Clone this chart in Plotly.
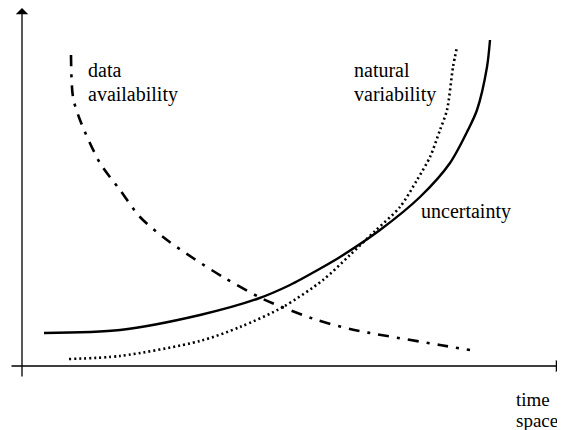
import plotly.graph_objects as go

# the page body adds an 8px margin, so the figure is drawn 8px smaller
# and its ranges start where the page content starts
W, H = 557, 422

# curves (x to the right, y upward = 430 - pixel row)
unc_x = [44, 120, 200, 257, 290, 323, 340, 380, 420, 450, 468, 477, 487, 490]
unc_y = [97, 100, 115, 131, 145, 163, 173, 200, 233, 267, 300, 320, 363, 390]

nat_x = [69, 120, 200, 240, 283, 323, 350, 375, 400, 417, 430, 440, 447, 453, 457]
nat_y = [71, 74, 89, 103, 123, 150, 175, 199, 223, 250, 273, 300, 320, 363, 383]

dat_x = [71, 73, 80, 100, 120, 140, 167, 193, 223, 263, 317, 350, 370, 440, 470]
dat_y = [375, 333, 310, 267, 240, 213, 190, 172, 153, 131, 110, 101, 97, 85, 80]

# axis frame
y_axis_x, y_axis_bottom, y_axis_top = 22, 52, 422
x_axis_y, x_axis_left, x_axis_right = 64, 10, 562

fig = go.Figure()

fig.add_trace(go.Scatter(x=unc_x, y=unc_y, mode="lines",
                         line=dict(color="black", width=2.4, shape="spline", smoothing=0.8)))
fig.add_trace(go.Scatter(x=nat_x, y=nat_y, mode="lines",
                         line=dict(color="black", width=2.6, dash="2px,3px",
                                   shape="spline", smoothing=0.8)))
fig.add_trace(go.Scatter(x=dat_x, y=dat_y, mode="lines",
                         line=dict(color="black", width=2.6, dash="11px,8px,3px,8px",
                                   shape="spline", smoothing=0.8)))

# axes with arrow heads
fig.add_annotation(x=y_axis_x, y=y_axis_top, ax=y_axis_x, ay=y_axis_bottom,
                   xref="x", yref="y", axref="x", ayref="y", text="",
                   showarrow=True, arrowhead=1, arrowsize=1.6, arrowwidth=1.3,
                   arrowcolor="black")
fig.add_annotation(x=x_axis_right, y=x_axis_y, ax=x_axis_left, ay=x_axis_y,
                   xref="x", yref="y", axref="x", ayref="y", text="",
                   showarrow=True, arrowhead=1, arrowsize=1.6, arrowwidth=1.3,
                   arrowcolor="black")

font = dict(family="Liberation Serif, Times New Roman, serif", size=20, color="black")
small = dict(font, size=19)
labels = [
    (86, 360, "data", font),
    (86, 336, "availability", font),
    (352, 360, "natural", font),
    (352, 336, "variability", font),
    (419, 219, "uncertainty", font),
    (514, 31, "time", small),
    (514, 10, "space", small),
]
for lx, ly, txt, f in labels:
    fig.add_annotation(x=lx, y=ly, text=txt, showarrow=False, xanchor="left",
                       yanchor="middle", align="left", font=f)

fig.update_layout(
    width=W, height=H,
    margin=dict(l=0, r=0, t=0, b=0),
    plot_bgcolor="white", paper_bgcolor="white",
    showlegend=False,
)
fig.update_xaxes(range=[8, 565], visible=False, fixedrange=True)
fig.update_yaxes(range=[0, 422], visible=False, fixedrange=True)

fig.write_html("out.html")
